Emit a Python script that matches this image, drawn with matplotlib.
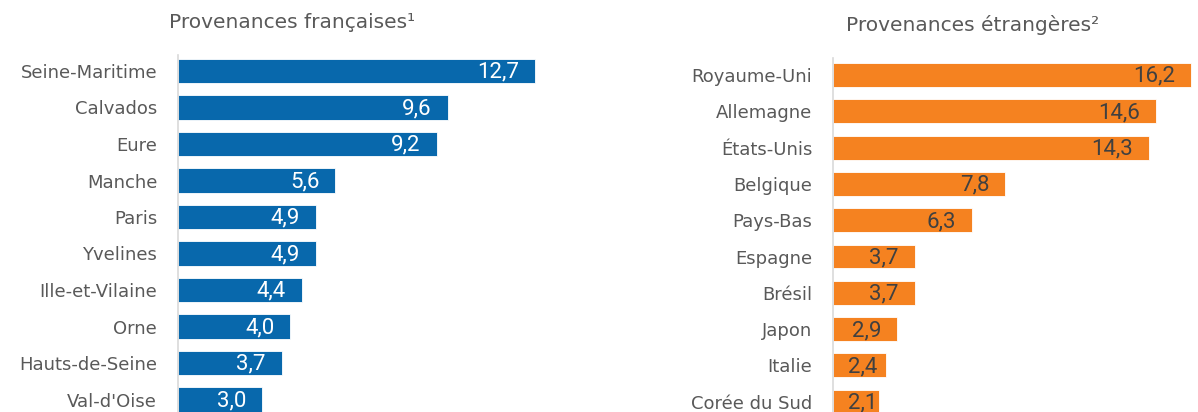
import numpy as np
import matplotlib.pyplot as plt

plt.rcParams['font.family'] = ['DejaVu Sans']

fr_labels = ["Seine-Maritime", "Calvados", "Eure", "Manche", "Paris", "Yvelines",
             "Ille-et-Vilaine", "Orne", "Hauts-de-Seine", "Val-d'Oise"]
fr_values = [12.7, 9.6, 9.2, 5.6, 4.9, 4.9, 4.4, 4.0, 3.7, 3.0]

et_labels = ["Royaume-Uni", "Allemagne", "États-Unis", "Belgique", "Pays-Bas",
             "Espagne", "Brésil", "Japon", "Italie", "Corée du Sud"]
et_values = [16.2, 14.6, 14.3, 7.8, 6.3, 3.7, 3.7, 2.9, 2.4, 2.1]

W, H = 1198, 412
fig = plt.figure(figsize=(W / 100, H / 100), dpi=100)
value_texts = []


def panel(left, right, top, labels, values, color, txtcolor, xmax, ylim, title, tx, ty):
    ax = fig.add_axes([left / W, 0, (right - left) / W, 1 - top / H])
    y = np.arange(len(values))
    ax.barh(y, values, height=0.66, color=color, edgecolor='white', linewidth=0.6)
    ax.set_ylim(*ylim)
    ax.set_xlim(0, xmax)
    ax.set_yticks(y)
    ax.set_yticklabels(labels, fontsize=13, color='#595959')
    ax.tick_params(axis='y', length=0, pad=15)
    ax.set_xticks([])
    for s in ['top', 'right', 'bottom']:
        ax.spines[s].set_visible(False)
    ax.spines['left'].set_color('#d9d9d9')
    ax.spines['left'].set_linewidth(1.2)
    for yi, v in zip(y, values):
        t = ax.annotate(f"{v:.1f}".replace('.', ','), (v, yi), xytext=(-11.5, -1),
                        textcoords='offset points', ha='right', va='center',
                        fontsize=16, color=txtcolor, family=['Roboto', 'DejaVu Sans'])
        value_texts.append((ax, t, yi))
    fig.text(tx / W, 1 - ty / H, title, ha='center', va='center',
             fontsize=14.5, color='#595959')
    return ax


panel(178, 590, 55, fr_labels, fr_values, '#0868ac', 'white', 412 / 28.1,
      ((412 - 71) / 36.5, -(71 - 55) / 36.5),
      "Provenances françaises¹", 292, 22)
panel(833, 1198, 58, et_labels, et_values, '#f58220', '#404040', 365 / 22.1,
      ((412 - 75) / 36.3, -(75 - 58) / 36.3),
      "Provenances étrangères²", 973, 25)

# labels that would get too close to the axis start at a fixed inset instead
fig.canvas.draw()
r = fig.canvas.get_renderer()
for ax, t, yi in value_texts:
    x0 = ax.transData.transform((0, yi))[0]
    if t.get_window_extent(r).x0 < x0 + 15:
        t.xy = (0, yi)
        t.set_position((11, -1))
        t.set_ha('left')

fig.savefig("out.png", dpi=100)
